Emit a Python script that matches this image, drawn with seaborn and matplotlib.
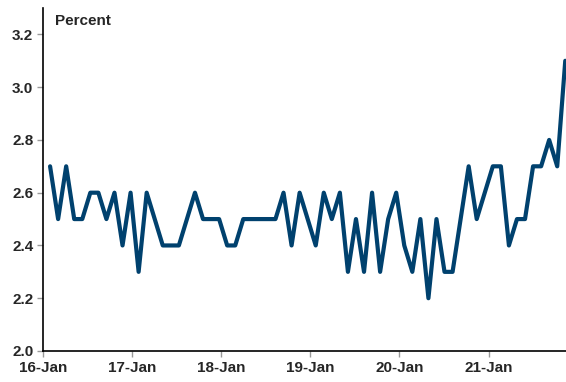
import matplotlib
matplotlib.use("Agg")
import matplotlib.pyplot as plt
import matplotlib.dates as mdates
import seaborn as sns
import pandas as pd

# Survey readings, in percent
values = [2.7, 2.5, 2.7, 2.5, 2.5, 2.6, 2.6, 2.5, 2.6, 2.4,
          2.6, 2.3, 2.6, 2.5, 2.4, 2.4, 2.4, 2.5, 2.6, 2.5,
          2.5, 2.5, 2.4, 2.4, 2.5, 2.5, 2.5, 2.5, 2.5, 2.6,
          2.4, 2.6, 2.5, 2.4, 2.6, 2.5, 2.6, 2.3, 2.5, 2.3,
          2.6, 2.3, 2.5, 2.6, 2.4, 2.3, 2.5, 2.2, 2.5, 2.3,
          2.3, 2.5, 2.7, 2.5, 2.6, 2.7, 2.7, 2.4, 2.5, 2.5,
          2.7, 2.7, 2.8, 2.7, 3.1]
dates = pd.date_range("2016-01-30", periods=len(values), freq="33D")
tick_dates = pd.to_datetime(["2016-01-01", "2017-01-01", "2018-01-01",
                             "2019-01-01", "2020-01-01", "2021-01-01"])
tick_labels = ["16-Jan", "17-Jan", "18-Jan", "19-Jan", "20-Jan", "21-Jan"]
y_ticks = [2.0, 2.2, 2.4, 2.6, 2.8, 3.0, 3.2]

df = pd.DataFrame({"date": dates, "value": values})

sns.set_style("ticks")
plt.rcParams["font.family"] = ["Liberation Sans", "DejaVu Sans"]

fig = plt.figure(figsize=(5.66, 3.82), dpi=100)
ax = fig.add_axes([43 / 566, 1 - 351 / 382, (566 - 43) / 566, (351 - 8) / 382])

sns.lineplot(data=df, x="date", y="value", ax=ax, color="#00416E",
             linewidth=3.0, clip_on=False)

ax.set_xlim(pd.Timestamp("2016-01-01"), pd.Timestamp("2021-11-14"))
ax.set_ylim(2.0, 3.3)
ax.set_yticks(y_ticks)
ax.set_yticklabels([f"{v:.1f}" for v in y_ticks])
ax.set_xticks(tick_dates)
ax.set_xticklabels(tick_labels)
ax.set_xlabel("")
ax.set_ylabel("")

for side in ("top", "right"):
    ax.spines[side].set_visible(False)
for side in ("left", "bottom"):
    ax.spines[side].set_color("black")
    ax.spines[side].set_linewidth(1.2)

ax.tick_params(axis="both", length=4, width=1, color="#999999",
               labelsize=11, pad=3)
for lab in ax.get_xticklabels() + ax.get_yticklabels():
    lab.set_fontweight("bold")

fig.text(55 / 566, 1 - 14 / 382, "Percent", fontsize=11, fontweight="bold",
         ha="left", va="top")

fig.savefig("out.png", dpi=100)
